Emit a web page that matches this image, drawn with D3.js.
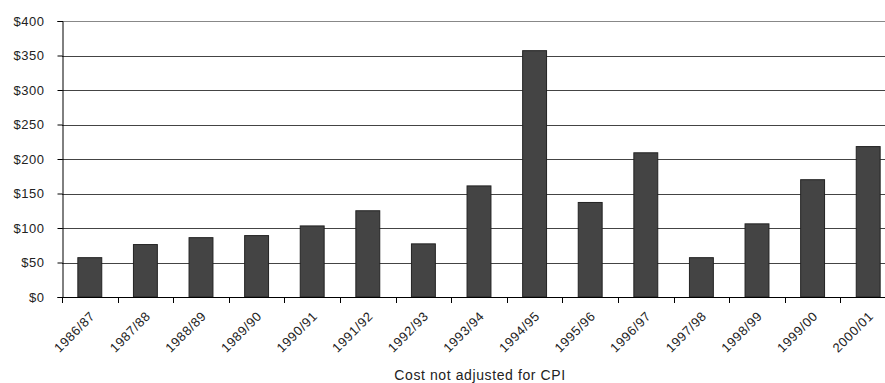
<!DOCTYPE html>
<html><head><meta charset="utf-8">
<script src="https://cdn.jsdelivr.net/npm/d3@7"></script>
<style>body{margin:0;background:#fff}svg{display:block}text{font-family:"Liberation Sans",Arial,sans-serif;fill:#222}</style>
</head><body>
<script>
const categories = ["1986/87","1987/88","1988/89","1989/90","1990/91","1991/92","1992/93","1993/94","1994/95","1995/96","1996/97","1997/98","1998/99","1999/00","2000/01"];
const values = [57,76,86,89,103,125,77,161,357,137,209,57,106,170,218];
const yTicks = [0,50,100,150,200,250,300,350,400];
const xTitle = "Cost not adjusted for CPI";

const W = 885, H = 383;
const svg = d3.select("body").append("svg").attr("width", W).attr("height", H);
const x = d3.scaleBand().domain(categories).range([62, 896]).paddingInner(0.57).paddingOuter(0.285);
const y = d3.scaleLinear().domain([0, 400]).range([297, 21]);

// gridlines
svg.append("g").selectAll("line").data(yTicks.filter(d => d > 0)).join("line")
  .attr("x1", 62).attr("x2", W).attr("y1", d => Math.round(y(d)) + 0.5).attr("y2", d => Math.round(y(d)) + 0.5)
  .attr("stroke", d => d === 400 ? "#888" : "#444").attr("stroke-width", 1);

// bars
svg.append("g").selectAll("rect").data(values).join("rect")
  .attr("x", (d, i) => x(categories[i]))
  .attr("y", d => y(d))
  .attr("width", x.bandwidth())
  .attr("height", d => y(0) - y(d))
  .attr("fill", "#444")
  .attr("stroke", "#222").attr("stroke-width", 1);

// y axis
const yAxis = d3.axisLeft(y).tickValues(yTicks).tickFormat(d => "$" + d).tickSize(5).tickPadding(13);
const gy = svg.append("g").attr("transform", "translate(62.5,0)").call(yAxis);
gy.select(".domain").attr("stroke", "#000");
gy.selectAll(".tick line").attr("stroke", "#000");
gy.selectAll("text").style("font-size", "13px").style("letter-spacing", "0.5px").attr("fill", "#222");

// x axis baseline and ticks
const step = x.step();
const bounds = d3.range(categories.length + 1).map(i => 62 + i * step);
svg.append("line").attr("x1", 62).attr("x2", W).attr("y1", 297.5).attr("y2", 297.5).attr("stroke", "#000");
svg.append("g").selectAll("line").data(bounds).join("line")
  .attr("x1", d => Math.round(d) + 0.5).attr("x2", d => Math.round(d) + 0.5)
  .attr("y1", 297).attr("y2", 303).attr("stroke", "#000");

// x labels
svg.append("g").selectAll("text").data(categories).join("text")
  .attr("transform", d => `translate(${x(d) + x.bandwidth() / 2 + 6},${317}) rotate(-45)`)
  .attr("text-anchor", "end")
  .style("font-size", "13px").style("letter-spacing", "0.6px")
  .text(d => d);

svg.append("text").attr("x", 480).attr("y", 380).attr("text-anchor", "middle")
  .style("font-size", "14px").style("letter-spacing", "0.6px").text(xTitle);
</script>
</body></html>
